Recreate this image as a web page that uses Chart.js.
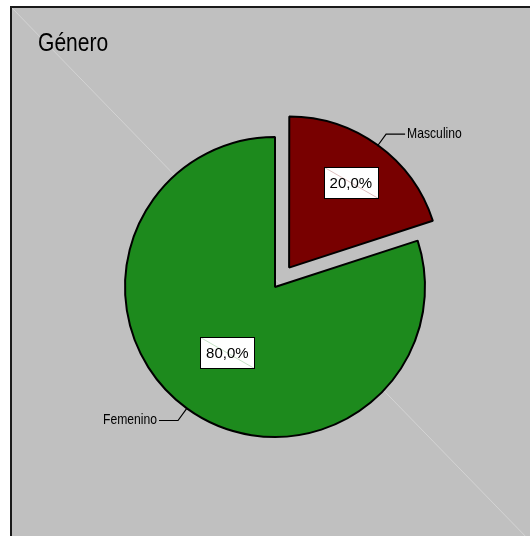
<!DOCTYPE html>
<html>
<head>
<meta charset="utf-8">
<script src="https://cdn.jsdelivr.net/npm/chart.js@4/dist/chart.umd.min.js"></script>
<style>
  body { margin: 0; background: #fff; }
</style>
</head>
<body>
<canvas id="generoChart" width="530" height="536"></canvas>
<script>
const chartTitle = 'Género';
const labels = ['Masculino', 'Femenino'];
const values = [20, 80];
const colors = ['#780000', '#1d8a1d'];
const explode = [24, 0];       // how far each slice is pulled out, px
const boxDepth = [0.70, 0.54]; // where the % box sits along the slice radius

const baseFont = '"Liberation Sans", Arial, sans-serif';
const narrow = 0.81; // squeeze factor for the condensed-looking texts

function pctText(v) {
  const total = values.reduce((a, b) => a + b, 0);
  return (v / total * 100).toFixed(1).replace('.', ',') + '%';
}

// draws text squeezed horizontally, anchored at x (align: left/right)
function narrowText(ctx, text, x, y, size, align) {
  ctx.save();
  ctx.font = size + 'px ' + baseFont;
  ctx.textAlign = align;
  ctx.textBaseline = 'alphabetic';
  ctx.translate(x, y);
  ctx.scale(narrow, 1);
  ctx.fillText(text, 0, 0);
  ctx.restore();
}

// grey panel with the title behind the pie
const panel = {
  id: 'panel',
  beforeDraw(chart) {
    const ctx = chart.ctx;
    const w = chart.width, h = chart.height;
    ctx.save();
    ctx.fillStyle = '#fff';
    ctx.fillRect(0, 0, w, h);
    ctx.fillStyle = '#c0c0c0';
    ctx.fillRect(11, 7, w, h);
    ctx.strokeStyle = '#1a1a1a';
    ctx.lineWidth = 2;
    ctx.strokeRect(11, 7, w + 20, h + 20);
    ctx.strokeStyle = 'rgba(255,255,255,0.3)';
    ctx.lineWidth = 1;
    ctx.beginPath();
    ctx.moveTo(12, 8);
    ctx.lineTo(530, 541);
    ctx.stroke();
    ctx.fillStyle = '#000';
    narrowText(ctx, chartTitle, 38, 51, 26, 'left');
    ctx.restore();
  }
};

// percent boxes and callout names
const sliceLabels = {
  id: 'sliceLabels',
  afterDatasetsDraw(chart) {
    const ctx = chart.ctx;
    const meta = chart.getDatasetMeta(0);
    ctx.save();
    meta.data.forEach((arc, i) => {
      const p = arc.getProps(['x', 'y', 'startAngle', 'endAngle', 'outerRadius'], true);
      const mid = (p.startAngle + p.endAngle) / 2;
      const cos = Math.cos(mid), sin = Math.sin(mid);
      const cx = p.x + cos * explode[i];
      const cy = p.y + sin * explode[i];
      const r = p.outerRadius;

      // value box
      const bx = cx + cos * r * boxDepth[i];
      const by = cy + sin * r * boxDepth[i];
      const bw = 54, bh = 31;
      const left = Math.round(bx - bw / 2) + 0.5, top = Math.round(by - bh / 2) + 0.5;
      ctx.fillStyle = '#fff';
      ctx.fillRect(left, top, bw, bh);
      ctx.strokeStyle = colors[i];
      ctx.globalAlpha = 0.25;
      ctx.lineWidth = 1;
      ctx.beginPath();
      ctx.moveTo(left, top);
      ctx.lineTo(left + bw, top + bh);
      ctx.stroke();
      ctx.globalAlpha = 1;
      ctx.strokeStyle = '#000';
      ctx.strokeRect(left, top, bw, bh);
      ctx.fillStyle = '#000';
      ctx.font = '15px ' + baseFont;
      ctx.textAlign = 'center';
      ctx.textBaseline = 'middle';
      ctx.fillText(pctText(values[i]), bx, by + 1);

      // callout line and name
      const x0 = cx + cos * r, y0 = cy + sin * r;
      const x1 = cx + cos * (r + 15), y1 = cy + sin * (r + 15);
      const dir = cos >= 0 ? 1 : -1;
      const x2 = x1 + dir * 19;
      ctx.strokeStyle = '#000';
      ctx.lineWidth = 1.2;
      ctx.beginPath();
      ctx.moveTo(x0, y0);
      ctx.lineTo(x1, y1);
      ctx.lineTo(x2, y1);
      ctx.stroke();
      narrowText(ctx, labels[i], x2 + dir * 2, y1 + 4, 15, dir > 0 ? 'left' : 'right');
    });
    ctx.restore();
  }
};

const ctx = document.getElementById('generoChart').getContext('2d');
const generoChart = new Chart(ctx, {
  type: 'pie',
  data: {
    labels: labels,
    datasets: [{
      data: values,
      backgroundColor: colors,
      borderColor: '#000',
      borderWidth: 2,
      offset: explode.map(e => e * 4)
    }]
  },
  options: {
    responsive: false,
    animation: false,
    radius: 150,
    layout: { padding: { left: 111, right: 91, top: 123, bottom: 85 } },
    plugins: {
      legend: { display: false },
      title: { display: false },
      tooltip: { enabled: false }
    }
  },
  plugins: [panel, sliceLabels]
});
</script>
</body>
</html>
